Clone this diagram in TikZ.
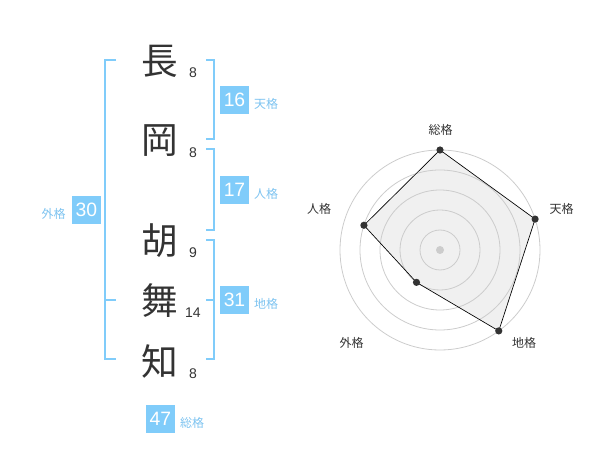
\documentclass[tikz,border=0pt]{standalone}
\usepackage{fontspec}
\setmainfont{Liberation Sans}
\newfontfamily\jp{Noto Sans CJK JP}
\definecolor{ink}{HTML}{333333}
\definecolor{boxblue}{RGB}{128,204,250}
\definecolor{lblblue}{RGB}{125,195,240}
\definecolor{ringgray}{HTML}{CCCCCC}
\definecolor{areafill}{HTML}{F0F0F0}
\begin{document}
\begin{tikzpicture}[x=0.75pt,y=-0.75pt,
  kanji/.style={font=\jp\fontsize{27.5}{27.5}\selectfont, text=ink, inner sep=0},
  strokes/.style={font=\fontsize{10.5}{10.5}\selectfont, text=ink, inner sep=0},
  scorebox/.style={fill=boxblue, text=white, inner sep=0, minimum width=21.5pt, minimum height=21.5pt, font=\fontsize{14.5}{14.5}\selectfont},
  scorelbl/.style={font=\jp\fontsize{9}{9}\selectfont, text=lblblue, inner sep=0},
  bracket/.style={draw=boxblue, line width=1.5pt},
  ring/.style={draw=ringgray, line width=0.6pt},
  axislbl/.style={font=\jp\fontsize{9}{9}\selectfont, text=ink, inner sep=0},
  vdot/.style={fill=ink, draw=none}]
\useasboundingbox (0,0) rectangle (600,470);
% name characters
\node[kanji] (k1) at (160,61) {長};
\node[kanji] (k2) at (160,141) {岡};
\node[kanji] (k3) at (160,241) {胡};
\node[kanji] (k4) at (160,301) {舞};
\node[kanji] (k5) at (160,361) {知};
\node[strokes] (s1) at (193,72.7) {8};
\node[strokes] (s2) at (193,152.7) {8};
\node[strokes] (s3) at (193,252.7) {9};
\node[strokes] (s4) at (193,312.7) {14};
\node[strokes] (s5) at (193,373.3) {8};
% brackets
\draw[bracket] (116,60) -- (105,60) -- (105,359) -- (116,359);
\draw[bracket] (105,300) -- (116,300);
\draw[bracket] (206,60) -- (214,60) -- (214,139) -- (206,139);
\draw[bracket] (206,149) -- (214,149) -- (214,230) -- (206,230);
\draw[bracket] (206,240) -- (214,240) -- (214,359) -- (206,359);
\draw[bracket] (206,300) -- (214,300);
% scores
\node[scorebox] (ten) at (234.5,100) {16};
\node[scorelbl] (tenl) at (266,104) {天格};
\node[scorebox] (jin) at (234.5,190) {17};
\node[scorelbl] (jinl) at (266,194) {人格};
\node[scorebox] (chi) at (234.5,300) {31};
\node[scorelbl] (chil) at (266,304) {地格};
\node[scorebox] (gai) at (86.5,210) {30};
\node[scorelbl] (gail) at (53.5,213.5) {外格};
\node[scorebox] (sou) at (160.5,419) {47};
\node[scorelbl] (soul) at (192,423) {総格};
% radar chart
\coordinate (c) at (440,250);
\coordinate (pS) at ([shift={(-90:100)}]c);
\coordinate (pT) at ([shift={(-18:100)}]c);
\coordinate (pC) at ([shift={(54:100)}]c);
\coordinate (pG) at ([shift={(126:40)}]c);
\coordinate (pJ) at ([shift={(198:80)}]c);
\fill[areafill] (pS) -- (pT) -- (pC) -- (pG) -- (pJ) -- cycle;
\foreach \r in {15,30,45,60,75} \draw[ring] (c) circle[radius=\r pt];
\draw[black, line width=0.5pt, line join=round] (pS) -- (pT) -- (pC) -- (pG) -- (pJ) -- cycle;
\fill[ringgray] (c) circle[radius=3pt];
\foreach \p in {pS,pT,pC,pG,pJ} \fill[vdot] (\p) circle[radius=2.7pt];
\node[axislbl] (aS) at (440.7,130) {総格};
\node[axislbl] (aT) at (561.7,208.5) {天格};
\node[axislbl] (aC) at (524,342.5) {地格};
\node[axislbl] (aG) at (351.7,342.5) {外格};
\node[axislbl] (aJ) at (319,209) {人格};
\end{tikzpicture}
\end{document}
